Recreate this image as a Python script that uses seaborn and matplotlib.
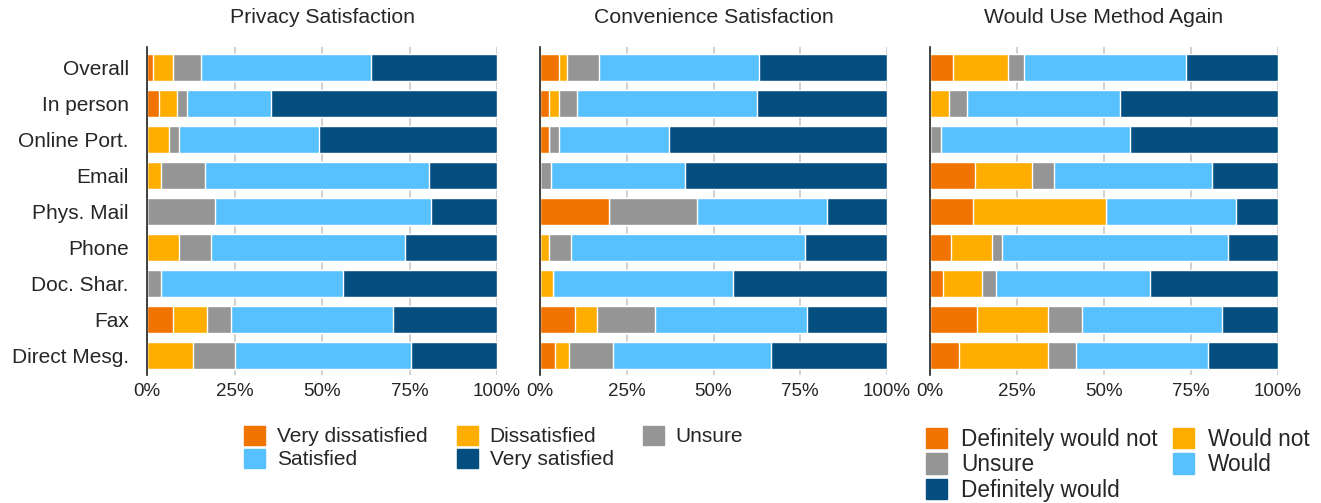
import matplotlib
matplotlib.use("Agg")
import matplotlib.pyplot as plt
import matplotlib.patches as mpatches
import seaborn as sns
import pandas as pd
import numpy as np

# categories (top to bottom)
methods = ["Overall", "In person", "Online Port.", "Email", "Phys. Mail",
           "Phone", "Doc. Shar.", "Fax", "Direct Mesg."]

sat_levels = ["Very dissatisfied", "Dissatisfied", "Unsure", "Satisfied", "Very satisfied"]
again_levels = ["Definitely would not", "Would not", "Unsure", "Would", "Definitely would"]

# Privacy satisfaction (%)
priv_vd = [1.7, 3.4, 0.0, 0.0, 0.0, 0.0, 0.0, 7.4, 0.0]
priv_d = [5.7, 5.2, 6.3, 4.0, 0.0, 9.1, 0.0, 9.7, 13.1]
priv_u = [8.0, 2.8, 2.8, 12.6, 19.4, 9.2, 4.0, 6.9, 12.0]
priv_s = [48.6, 24.0, 40.0, 64.0, 61.7, 55.4, 52.0, 46.3, 50.3]
priv_vs = [36.0, 64.6, 50.9, 19.4, 18.9, 26.3, 44.0, 29.7, 24.6]

# Convenience satisfaction (%)
conv_vd = [5.6, 2.7, 2.7, 0.0, 20.0, 0.0, 0.0, 10.2, 4.4]
conv_d = [2.3, 2.9, 0.0, 0.0, 0.0, 2.7, 3.8, 6.3, 4.0]
conv_u = [9.2, 5.1, 2.9, 3.3, 25.3, 6.3, 0.0, 16.7, 12.7]
conv_s = [46.0, 51.9, 31.6, 38.5, 37.4, 67.4, 51.9, 43.8, 45.5]
conv_vs = [36.9, 37.4, 62.8, 58.2, 17.3, 23.6, 44.3, 23.0, 33.4]

# Would use method again (%)
again_dwn = [6.7, 0.0, 0.0, 13.0, 12.4, 6.1, 3.8, 13.6, 8.4]
again_wn = [15.8, 5.6, 0.0, 16.4, 38.2, 11.8, 11.2, 20.4, 25.6]
again_u = [4.6, 5.1, 3.3, 6.3, 0.0, 2.9, 4.0, 9.7, 8.0]
again_w = [46.5, 43.9, 54.2, 45.4, 37.3, 64.8, 44.3, 40.2, 37.9]
again_dw = [26.4, 45.4, 42.5, 18.9, 12.1, 14.4, 36.7, 16.1, 20.1]

colors = ["#F17300", "#FFAE00", "#959595", "#57C1FF", "#054F80"]

panels = [
    ("Privacy Satisfaction", [priv_vd, priv_d, priv_u, priv_s, priv_vs]),
    ("Convenience Satisfaction", [conv_vd, conv_d, conv_u, conv_s, conv_vs]),
    ("Would Use Method Again", [again_dwn, again_wn, again_u, again_w, again_dw]),
]

sns.set_style("white")
plt.rcParams["font.family"] = ["Liberation Sans", "DejaVu Sans"]

fig = plt.figure(figsize=(13.21, 5.03), dpi=100)
ax_pos = [(147, 350), (540, 347), (930, 348)]

for i, (title, series) in enumerate(panels):
    x0, w = ax_pos[i]
    ax = fig.add_axes([x0 / 1321, 1 - 375 / 503, w / 1321, 328 / 503])
    df = pd.DataFrame(np.array(series).T, index=methods)
    cum = df.cumsum(axis=1)
    # draw from the outermost cumulative segment inward
    for k in range(4, -1, -1):
        sns.barplot(x=cum[k].values, y=methods, color=colors[k], orient="h",
                    width=0.75, ax=ax, saturation=1, zorder=2)
    ax.set_xlim(0, 100)
    ax.set_ylim(8.55, -0.57)
    ax.set_xticks([0, 25, 50, 75, 100])
    ax.set_xticklabels(["0%", "25%", "50%", "75%", "100%"], fontsize=13.5)
    ax.xaxis.grid(True, color="#c8c8c8", linewidth=1.2, zorder=0)
    ax.set_axisbelow(True)
    for s in ["top", "right", "bottom"]:
        ax.spines[s].set_visible(False)
    ax.spines["left"].set_color("#222222")
    ax.spines["left"].set_linewidth(1.2)
    ax.tick_params(axis="x", length=0, pad=6)
    ax.tick_params(axis="y", length=0, pad=13)
    ax.set_xlabel("")
    ax.set_ylabel("")
    if i == 0:
        ax.set_yticklabels(methods, fontsize=15)
    else:
        ax.set_yticklabels([])
    ax.set_title(title, fontsize=15.3, pad=17)

# legend for satisfaction panels (row-wise order)
h = [mpatches.Patch(color=c) for c in colors]
order1 = [0, 3, 1, 4, 2]
fig.legend([h[j] for j in order1], [sat_levels[j] for j in order1],
           ncol=3, loc="upper left", bbox_to_anchor=(244 / 1321, 1 - 426 / 503),
           frameon=False, fontsize=15, handlelength=1.0, handleheight=1.0,
           handletextpad=0.58, columnspacing=1.4, labelspacing=0.12,
           borderpad=0, borderaxespad=0)

order2 = [0, 2, 4, 1, 3]
fig.legend([h[j] for j in order2], [again_levels[j] for j in order2],
           ncol=2, loc="upper left", bbox_to_anchor=(926 / 1321, 1 - 428 / 503),
           frameon=False, fontsize=16.3, handlelength=0.93, handleheight=1.0,
           handletextpad=0.62, columnspacing=0.66, labelspacing=0.1,
           borderpad=0, borderaxespad=0)

fig.savefig("out.png", dpi=100)
